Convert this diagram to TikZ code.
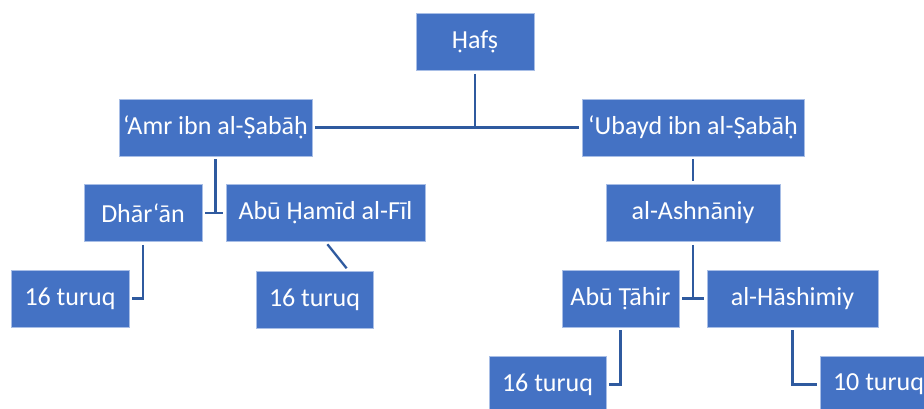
\documentclass[tikz,border=0pt]{standalone}
\usepackage{fontspec}
\setmainfont{Carlito}
\usetikzlibrary{positioning}
\definecolor{boxblue}{HTML}{4472C4}
\definecolor{boxrim}{HTML}{A8BEE6}
\definecolor{linkblue}{HTML}{2F5A9F}

\begin{document}
\begin{tikzpicture}[x=1pt, y=-1pt,
        main/.style = {draw=boxrim, line width=0.8pt, fill=boxblue, text=white,
                       minimum height=57pt, inner sep=0pt, font=\fontsize{26}{28}\selectfont},
        link/.style = {draw=linkblue, line width=2.3pt}]
                \useasboundingbox (0,0) rectangle (924,408);
                \begin{scope}
                \clip (0,0) rectangle (924,408);
                \node[main, minimum width=118pt] at (475, 42) (hafs) {Ḥafṣ};
                \node[main, minimum width=193pt] at (215.5, 127.5) (amr) {‘Amr ibn al-Ṣabāḥ};
                \node[main, minimum width=222pt] at (693, 127.5) (ubayd) {‘Ubayd ibn al-Ṣabāḥ};

                \node[main, minimum width=118pt] at (143, 213) (dharan) {Dhār‘ān};
                \node[main, minimum width=199pt] at (325.5, 213) (abuhamid) {Abū Ḥamīd al-Fīl};
                \node[main, minimum width=174pt] at (693, 213) (ashnani) {al-Ashnāniy};

                \node[main, minimum width=118pt] at (70, 298.5) (turuqA) {16 turuq};
                \node[main, minimum width=117pt] at (314.5, 299.5) (turuqB) {16 turuq};
                \node[main, minimum width=117pt] at (620.5, 298.5) (abutahir) {Abū Ṭāhir};
                \node[main, minimum width=171pt] at (792.5, 298.5) (hashimi) {al-Hāshimiy};

                \node[main, minimum width=117pt] at (547.5, 384.5) (turuqC) {16 turuq};
                \node[main, minimum width=117pt] at (878.5, 384.5) (turuqD) {10 turuq};

                \draw [link, shorten <=3pt] (hafs.south) -- (hafs.south |- amr.east);
                \draw [link, shorten <=3pt, shorten >=3pt] (amr.east) -- (ubayd.west);

                \draw [link, shorten <=3pt] (amr.south) -- (amr.south |- dharan.east);
                \draw [link, shorten <=3pt, shorten >=3pt] (dharan.east) -- (abuhamid.west);
                \draw [link, shorten <=3pt, shorten >=3pt] (dharan.south) |- (turuqA.east);
                \draw [link, shorten <=3pt, shorten >=3pt] (abuhamid.south) -- ([xshift=34pt]turuqB.north);

                \draw [link, shorten <=3pt, shorten >=3pt] (ubayd) -- (ashnani);
                \draw [link, shorten <=3pt] (ashnani.south) -- (ashnani.south |- abutahir.east);
                \draw [link, shorten <=3pt, shorten >=3pt] (abutahir.east) -- (hashimi.west);
                \draw [link, shorten <=3pt, shorten >=3pt] (abutahir.south) |- (turuqC.east);
                \draw [link, shorten <=3pt, shorten >=3pt] (hashimi.south) |- (turuqD.west);
                \end{scope}
            \end{tikzpicture}
\end{document}
